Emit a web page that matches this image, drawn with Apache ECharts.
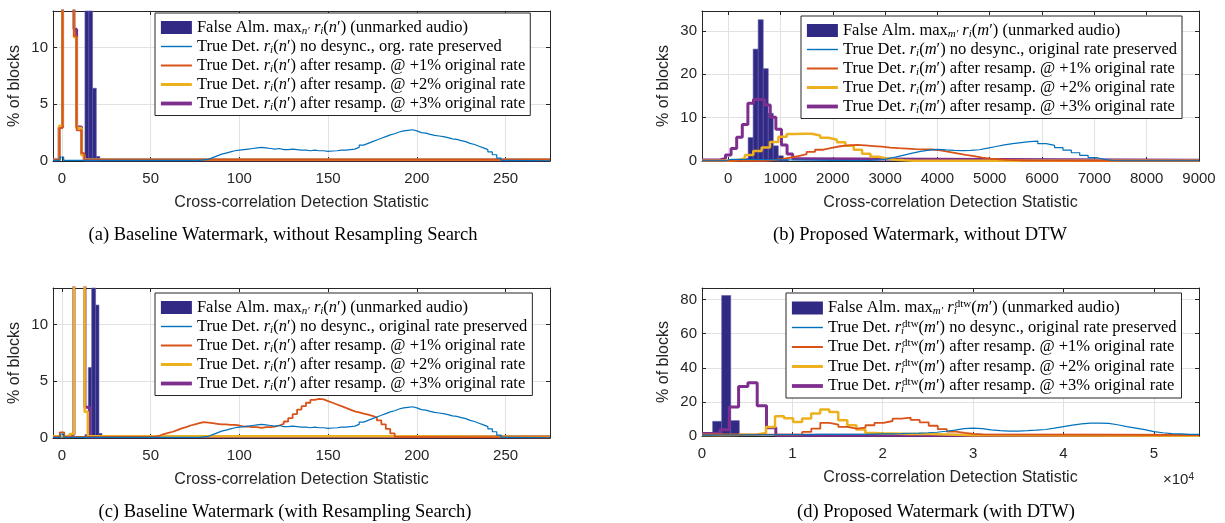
<!DOCTYPE html>
<html><head><meta charset="utf-8">
<script src="https://cdn.jsdelivr.net/npm/echarts@6/dist/echarts.min.js"></script>
<style>html,body{margin:0;padding:0;background:#fff}#c{width:1225px;height:523px}</style>
</head><body><div id="c"></div>
<script>
// ---------------- DATA ----------------
const xTicksBase = [0, 50, 100, 150, 200, 250];
const xTicksPropB = [0, 1000, 2000, 3000, 4000, 5000, 6000, 7000, 8000, 9000];
const xTicksPropD = [0, 10000, 20000, 30000, 40000, 50000];
const yTicksA = [0, 5, 10];
const yTicksB = [0, 10, 20, 30];
const yTicksD = [0, 20, 40, 60, 80];

// (a) Baseline, without resampling search
const aFAEdges = [13.0, 15.2, 17.3, 19.4, 21.4];
const aFAHeights = [30, 45, 6.4, 0.4];
const aBlueLead = [[-5, 0.05], [-1.0, 0.35], [1.0, 0.05]];
const baseBlueStart = 75, baseBlueWidth = 2.5;
const baseBlueVals = [0.05,0.1,0.15,0.3,0.45,0.6,0.7,0.8,0.9,0.95,1.0,1.05,1.1,1.15,1.2,1.15,1.1,1.05,1.1,1.0,
  1.0,1.05,1.0,0.95,0.95,0.9,0.95,0.9,0.9,0.85,0.88,0.9,0.95,0.95,1.0,1.05,1.2,1.4,1.55,1.7,
  1.85,2.0,2.15,2.3,2.4,2.55,2.65,2.7,2.75,2.65,2.5,2.45,2.35,2.25,2.2,2.15,2.05,1.95,1.9,1.8,
  1.7,1.55,1.45,1.3,1.15,1.0,0.8,0.55,0.25,0.05];
const baseBlueTail = [[250, 0.02]];
const aRed = [[-5, 0.1], [-1.5, 2.9], [0.4, 30], [6.8, 11.0], [8.3, 2.7], [11.1, 0.7], [12.6, 0.1]];
const aYellow = [[-5, 0.1], [-1.5, 3.1], [0.4, 30], [6.8, 10.9], [8.3, 2.9], [11.1, 0.5], [12.6, 0.1]];
const aPurple = [[-5, 0.1], [-1.5, 3.0], [0.4, 30], [6.8, 11.6], [8.3, 3.0], [11.1, 0.6], [12.6, 0.1]];

// (c) Baseline, with resampling search
const cFAEdges = [13.0, 14.9, 16.8, 19.0, 20.9, 22.6];
const cFAHeights = [0.3, 6.2, 35, 11.7, 0.4];
const cRedLead = [[-5, 0.1], [-1.2, 0.5], [1.3, 0.1]];
const cRedStart = 50, cRedWidth = 2.5;
const cRedVals = [0.1,0.2,0.35,0.45,0.55,0.7,0.85,0.95,1.1,1.2,1.3,1.4,1.35,1.3,1.25,1.2,1.2,1.15,1.15,1.1,
  1.0,1.0,0.95,0.95,0.9,0.95,0.95,1.0,1.1,1.25,1.45,1.75,2.1,2.5,2.8,3.1,3.35,3.45,3.4,3.25,
  3.1,2.95,2.8,2.65,2.5,2.35,2.25,2.15,2.05,1.95,1.8,1.55,1.2,0.8,0.4,0.1];
const cRedTail = [[190, 0.05]];
const cYellow = [[-5, 0.15], [4.5, 0.35], [6.8, 30], [12.8, 2.3], [14.6, 0.15], [190, 0.1]];
const cPurple = [[-5, 0.1], [4.5, 0.3], [6.8, 30], [13.0, 2.7], [15.6, 0.1]];

// (b) Proposed, without DTW
const bFAEdges = [286, 382, 478, 574, 670, 766, 862, 958, 1054, 1150];
const bFAHeights = [0.6, 5.4, 25.8, 32.6, 21.3, 11.0, 3.5, 1.2, 0.3];
const bBlueLead = [[-500, 0.05], [-60, 0.4], [60, 0.08]];
const bBlueStart = 2400, bBlueWidth = 160;
const bBlueVals = [0.1,0.15,0.25,0.5,0.9,1.35,1.8,2.2,2.5,2.7,2.55,2.45,2.4,2.45,2.6,2.95,3.35,3.7,4.0,4.25,
  4.45,4.6,4.0,3.6,3.1,2.5,1.9,1.3,0.8,0.35,0.12,0.05];
const bBlueTail = [[7520, 0.03]];
const bRedLead = [[-500, 0.05]];
const bRedStart = 700, bRedWidth = 160;
const bRedVals = [0.2,0.45,0.75,1.15,1.6,2.1,2.6,3.05,3.4,3.6,3.7,3.6,3.45,3.3,3.1,2.95,2.85,2.75,2.7,2.65,
  2.45,2.1,1.75,1.4,1.1,0.8,0.55,0.4,0.28,0.18,0.12,0.08];
const bRedTail = [[5820, 0.05], [7100, 0.03]];
const bYellowLead = [[-500, 0.03]];
const bYellowStart = 0, bYellowWidth = 160;
const bYellowVals = [0.2,0.6,1.4,2.3,3.1,4.4,5.6,6.2,6.3,6.3,5.9,5.35,4.9,4.3,3.5,2.6,1.65,1.0,0.55,0.3,0.15,0.08];
const bYellowTail = [[3520, 0.05]];
const bPurpleLead = [[-500, 0.25]];
const bPurpleStart = -158, bPurpleWidth = 107;
const bPurpleVals = [0.6,1.4,2.9,5.5,8.4,13.3,14.2,14.2,12.9,10.1,7.3,3.7,1.6,0.5];
const bPurpleTail = [[1340, 0.15]];

// (d) Proposed, with DTW
const dFAEdges = [1180, 2180, 3180, 4130];
const dFAHeights = [8.6, 82.4, 9.0];
const dBlueStart = 0, dBlueWidth = 1000;
const dBlueVals = [0.5,0.6,0.6,0.6,0.7,0.7,0.7,0.7,0.8,0.8,0.8,0.8,0.9,0.9,0.9,1.0,1.0,1.0,1.1,1.2,
  1.3,1.4,1.6,1.7,1.9,2.2,2.8,3.5,4.3,4.6,4.3,3.6,3.1,2.9,2.9,3.1,3.4,3.8,4.6,5.5,
  6.4,7.1,7.5,7.6,7.4,6.6,5.5,4.6,3.7,2.6,1.9,1.4,1.2,1.0,1.0];
const dRedLead = [[0, 0.8]];
const dRedStart = 11090, dRedWidth = 1000;
const dRedVals = [2.4,4.3,7.7,6.7,5.3,4.3,4.9,6.3,7.7,8.8,10.2,10.8,9.4,8.0,6.0,4.0,2.6,1.8,1.2,0.9];
const dRedTail = [[31090, 0.6]];
const dYellowLead = [[0, 0.6], [2000, 0.7], [4000, 0.9]];
const dYellowStart = 6080, dYellowWidth = 1000;
const dYellowVals = [1.8,5.3,11.6,10.4,8.2,10.2,13.2,15.5,14.1,9.2,6.3,3.8,1.8,1.5,1.4,1.3,1.2,1.2,1.1,1.0,0.9,0.8,0.6,0.4];
const dYellowTail = [[30080, 0.2]];
const dPurpleLead = [[0, 1.5]];
const dPurpleStart = 1990, dPurpleWidth = 1030;
const dPurpleVals = [3.6,17.0,29.0,31.3,17.8,4.9,0.5];
const dPurpleTail = [[9200, 0.3]];

// ---------------- HELPERS ----------------
const SANS = '"Liberation Sans", Arial, sans-serif';
const SERIF = '"Liberation Serif", "Times New Roman", serif';
const AX = '#262626';
const NAVY = '#312a85', BLUE = '#0072BD', RED = '#D95319', YEL = '#EDB120', PUR = '#7E2F8E';
const W = { B: 1.2, R: 1.8, Y: 2.5, P: 3 };

function bins(start, width, vals) { return vals.map((v, i) => [start + i * width, v]); }
function stairs(parts, xmax) {
  const pts = [].concat(...parts);
  pts.push([xmax, pts[pts.length - 1][1]]);
  return pts;
}
function barData(edges, heights) { return heights.map((h, i) => [edges[i], edges[i + 1], h]); }

const grids = [
  { left: 53, top: 11, width: 497, height: 150 },
  { left: 702, top: 11, width: 497, height: 150 },
  { left: 53, top: 288, width: 497, height: 150 },
  { left: 702, top: 288, width: 497, height: 148 }
];
const axisCfg = [
  { xmin: -5, xmax: 275, xt: xTicksBase, ymax: 13.2, yt: yTicksA, fmt: v => String(v) },
  { xmin: -500, xmax: 9000, xt: xTicksPropB, ymax: 34.6, yt: yTicksB, fmt: v => String(v) },
  { xmin: -5, xmax: 275, xt: xTicksBase, ymax: 13.2, yt: yTicksA, fmt: v => String(v) },
  { xmin: 0, xmax: 55000, xt: xTicksPropD, ymax: 86.8, yt: yTicksD, fmt: v => String(v / 10000) }
];

const xAxis = [], yAxis = [];
axisCfg.forEach((c, g) => {
  const line = { show: true, onZero: false, lineStyle: { color: AX, width: 1 } };
  const tick = (vals) => ({ show: true, inside: true, length: 4, customValues: vals, lineStyle: { color: AX, width: 1 } });
  xAxis.push({
    gridIndex: g, type: 'value', min: c.xmin, max: c.xmax, position: 'bottom',
    axisLine: line, axisTick: tick(c.xt),
    axisLabel: { customValues: c.xt, formatter: c.fmt, fontFamily: SANS, fontSize: 15, color: AX, margin: 10 },
    splitLine: { show: true, lineStyle: { color: '#e2e2e2', width: 1 } },
    name: 'Cross-correlation Detection Statistic', nameLocation: 'middle', nameGap: 34,
    nameTextStyle: { fontFamily: SANS, fontSize: 16, color: AX }
  });
  xAxis.push({
    gridIndex: g, type: 'value', min: c.xmin, max: c.xmax, position: 'top',
    axisLine: line, axisTick: tick(c.xt), axisLabel: { show: false }, splitLine: { show: false }
  });
  yAxis.push({
    gridIndex: g, type: 'value', min: 0, max: c.ymax, position: 'left',
    axisLine: line, axisTick: tick(c.yt),
    axisLabel: { customValues: c.yt, fontFamily: SANS, fontSize: 15, color: AX, margin: 5 },
    splitLine: { show: true, lineStyle: { color: '#e2e2e2', width: 1 } },
    name: '% of blocks', nameLocation: 'middle', nameGap: 30,
    nameTextStyle: { fontFamily: SANS, fontSize: 16, color: AX }
  });
  yAxis.push({
    gridIndex: g, type: 'value', min: 0, max: c.ymax, position: 'right',
    axisLine: line, axisTick: tick(c.yt), axisLabel: { show: false }, splitLine: { show: false }
  });
});

function lineS(g, name, data, color, width) {
  return { type: 'line', name, xAxisIndex: g * 2, yAxisIndex: g * 2, data, step: 'end',
    symbol: 'none', showSymbol: false, clip: true, silent: true,
    lineStyle: { color, width }, itemStyle: { color } };
}
function barS(g, name, data) {
  return { type: 'custom', name, xAxisIndex: g * 2, yAxisIndex: g * 2, data, silent: true,
    encode: { x: [0, 1], y: 2 }, itemStyle: { color: NAVY },
    renderItem: (params, api) => {
      const p0 = api.coord([api.value(0), api.value(2)]);
      const p1 = api.coord([api.value(1), 0]);
      const cs = params.coordSys;
      const r = echarts.graphic.clipRectByRect(
        { x: p0[0], y: p0[1], width: p1[0] - p0[0], height: p1[1] - p0[1] },
        { x: cs.x, y: cs.y, width: cs.width, height: cs.height });
      return r && { type: 'rect', shape: r, style: { fill: NAVY, stroke: '#5d59a6', lineWidth: 0.6 } };
    } };
}

const baseBlue = (lead, xmax) => stairs([lead, bins(baseBlueStart, baseBlueWidth, baseBlueVals), baseBlueTail], xmax);

const series = [
  // (a)
  barS(0, 'aFA', barData(aFAEdges, aFAHeights)),
  lineS(0, 'aP', stairs([aPurple], 275), PUR, W.P),
  lineS(0, 'aY', stairs([aYellow], 275), YEL, W.Y),
  lineS(0, 'aR', stairs([aRed], 275), RED, W.R),
  lineS(0, 'aB', baseBlue(aBlueLead, 275), BLUE, W.B),
  // (b)
  barS(1, 'bFA', barData(bFAEdges, bFAHeights)),
  lineS(1, 'bP', stairs([bPurpleLead, bins(bPurpleStart, bPurpleWidth, bPurpleVals), bPurpleTail], 9000), PUR, W.P),
  lineS(1, 'bY', stairs([bYellowLead, bins(bYellowStart, bYellowWidth, bYellowVals), bYellowTail], 9000), YEL, W.Y),
  lineS(1, 'bR', stairs([bRedLead, bins(bRedStart, bRedWidth, bRedVals), bRedTail], 9000), RED, W.R),
  lineS(1, 'bB', stairs([bBlueLead, bins(bBlueStart, bBlueWidth, bBlueVals), bBlueTail], 9000), BLUE, W.B),
  // (c)
  barS(2, 'cFA', barData(cFAEdges, cFAHeights)),
  lineS(2, 'cP', stairs([cPurple], 275), PUR, W.P),
  lineS(2, 'cY', stairs([cYellow], 275), YEL, W.Y),
  lineS(2, 'cR', stairs([cRedLead, bins(cRedStart, cRedWidth, cRedVals), cRedTail], 275), RED, W.R),
  lineS(2, 'cB', baseBlue(aBlueLead, 275), BLUE, W.B),
  // (d)
  barS(3, 'dFA', barData(dFAEdges, dFAHeights)),
  lineS(3, 'dP', stairs([dPurpleLead, bins(dPurpleStart, dPurpleWidth, dPurpleVals), dPurpleTail], 55000), PUR, W.P),
  lineS(3, 'dY', stairs([dYellowLead, bins(dYellowStart, dYellowWidth, dYellowVals), dYellowTail], 55000), YEL, W.Y),
  lineS(3, 'dR', stairs([dRedLead, bins(dRedStart, dRedWidth, dRedVals), dRedTail], 55000), RED, W.R),
  lineS(3, 'dB', stairs([bins(dBlueStart, dBlueWidth, dBlueVals)], 55000), BLUE, W.B)
];

// legend texts (rich)
function rTok(dtw) { return dtw ? '{i|r}{sn|i}{u|dtw}' : '{i|r}{s|i}'; }
function faLbl(v, dtw) { return '{t|False Alm. max}{s|' + v + '′}{t| }' + rTok(dtw) + '{t|(}{i|' + v + '}{t|′) (unmarked audio)}'; }
function tdLbl(v, dtw, tail) { return '{t|True Det. }' + rTok(dtw) + '{t|(}{i|' + v + '}{t|′) ' + tail + '}'; }
const LBL = {};
[['a', 'n', false, 'no desync., org. rate preserved'], ['b', 'm', false, 'no desync., original rate preserved'],
 ['c', 'n', false, 'no desync., original rate preserved'], ['d', 'm', true, 'no desync., original rate preserved']]
.forEach(([p, v, dtw, blueTail]) => {
  LBL[p + 'FA'] = faLbl(v, dtw);
  LBL[p + 'B'] = tdLbl(v, dtw, blueTail);
  LBL[p + 'R'] = tdLbl(v, dtw, 'after resamp. @ +1% original rate');
  LBL[p + 'Y'] = tdLbl(v, dtw, 'after resamp. @ +2% original rate');
  LBL[p + 'P'] = tdLbl(v, dtw, 'after resamp. @ +3% original rate');
});
const FS = 16.5;
const RICH = {
  t: { fontFamily: SERIF, fontSize: FS, color: '#000', lineHeight: 18 },
  i: { fontFamily: SERIF, fontSize: FS, fontStyle: 'italic', color: '#000', lineHeight: 18 },
  s: { fontFamily: SERIF, fontSize: 11, fontStyle: 'italic', color: '#000', lineHeight: 10, verticalAlign: 'bottom' },
  sn: { fontFamily: SERIF, fontSize: 11, fontStyle: 'italic', color: '#000', lineHeight: 10, verticalAlign: 'bottom', width: 1 },
  u: { fontFamily: SERIF, fontSize: 11, color: '#000', lineHeight: 10, verticalAlign: 'top' }
};
const legendPos = { a: [155, 13], b: [801, 16], c: [155, 293], d: [786, 293] };
const hidden = { opacity: 0, borderWidth: 0 };
const lineItem = (name, k) => ({ name, itemStyle: hidden, lineStyle: { width: W[k] + (k === 'P' ? 0.8 : k === 'Y' ? 0.5 : 0.2) } });
const legend = Object.keys(legendPos).map(p => ({
  left: legendPos[p][0], top: legendPos[p][1], orient: 'vertical',
  data: [{ name: p + 'FA', icon: 'rect' },
         lineItem(p + 'B', 'B'), lineItem(p + 'R', 'R'), lineItem(p + 'Y', 'Y'), lineItem(p + 'P', 'P')],
  itemWidth: 31, itemHeight: 13, itemGap: 1.5, padding: [6, 5, 3, 4],
  backgroundColor: '#fff', borderColor: AX, borderWidth: 1, borderRadius: 0,
  selectedMode: false, z: 20,
  formatter: n => LBL[n],
  textStyle: { fontFamily: SERIF, fontSize: FS, color: '#000', rich: RICH }
}));

const capFont = '18.5px "Liberation Serif", serif';
const graphic = [
  { type: 'text', x: 283, y: 235, style: { text: '(a) Baseline Watermark, without Resampling Search', font: capFont, fill: '#000', textAlign: 'center', textVerticalAlign: 'middle' } },
  { type: 'text', x: 920, y: 235, style: { text: '(b) Proposed Watermark, without DTW', font: capFont, fill: '#000', textAlign: 'center', textVerticalAlign: 'middle' } },
  { type: 'text', x: 285, y: 512, style: { text: '(c) Baseline Watermark (with Resampling Search)', font: capFont, fill: '#000', textAlign: 'center', textVerticalAlign: 'middle' } },
  { type: 'text', x: 936, y: 512, style: { text: '(d) Proposed Watermark (with DTW)', font: capFont, fill: '#000', textAlign: 'center', textVerticalAlign: 'middle' } },
  { type: 'text', x: 1163, y: 480, style: { text: '×10{s|4}', font: '15px "Liberation Sans", sans-serif', fill: AX, textVerticalAlign: 'middle',
      rich: { s: { fontFamily: SANS, fontSize: 10, color: AX, verticalAlign: 'top', lineHeight: 10 } } } }
];

const chart = echarts.init(document.getElementById('c'), null, { renderer: 'canvas' });
chart.setOption({
  animation: false,
  backgroundColor: '#fff',
  grid: grids.map(g => Object.assign({ containLabel: false }, g)),
  xAxis, yAxis, series, legend, graphic
});
</script></body></html>
